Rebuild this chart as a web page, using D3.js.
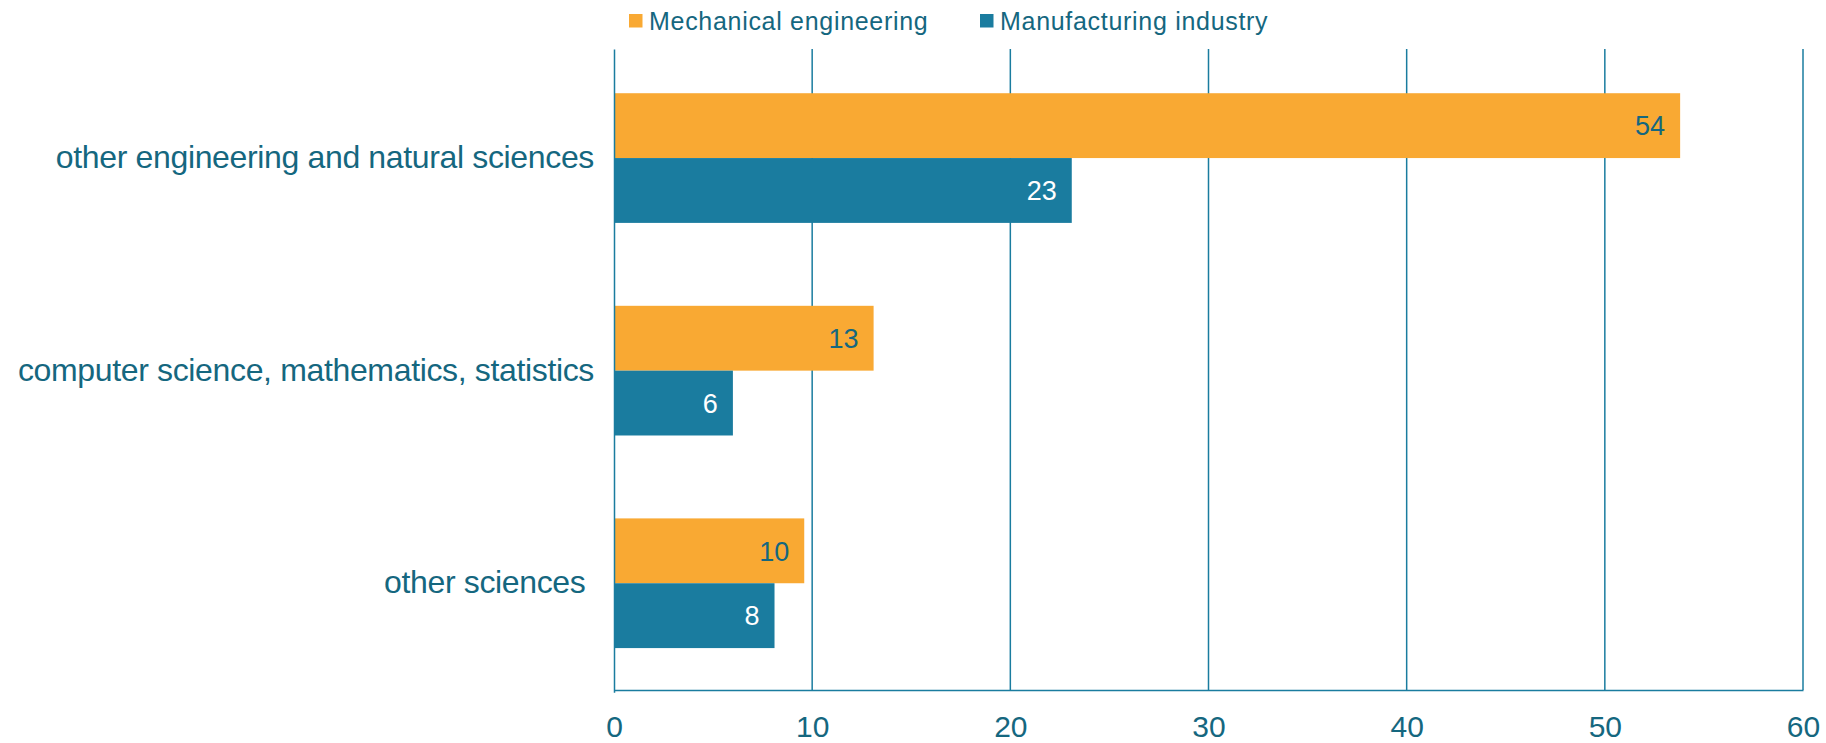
<!DOCTYPE html>
<html><head><meta charset="utf-8">
<script src="https://cdn.jsdelivr.net/npm/d3@7"></script>
<style>body{margin:0;background:#fff;}svg{display:block;font-family:"Liberation Sans",Arial,sans-serif;}</style>
</head><body>
<svg id="c" width="1826" height="743"></svg>
<script>
const categories = ["other engineering and natural sciences", "computer science, mathematics, statistics", "other sciences "];
const seriesNames = ["Mechanical engineering", "Manufacturing industry"];
const mechanical = [53.8, 13.1, 9.6];
const manufacturing = [23.1, 6.0, 8.1];
const labelsMech = ["54", "13", "10"];
const labelsManu = ["23", "6", "8"];
const ticks = [0, 10, 20, 30, 40, 50, 60];

const colors = ["#F9A933", "#1A7C9F"];
const textColor = "#15677F";
const svg = d3.select("#c");
const m = {left: 614, right: 1803, top: 49, bottom: 690};

const x = d3.scaleLinear().domain([0, 60]).range([m.left, m.right]);
const y0 = d3.scaleBand().domain(categories).range([m.top, 692.3]).paddingInner(0.39).paddingOuter(0.208);
const y1 = d3.scaleBand().domain(seriesNames).range([0, y0.bandwidth()]);

// gridlines
svg.append("g").selectAll("line").data(ticks.slice(1)).join("line")
  .attr("x1", d => x(d)).attr("x2", d => x(d)).attr("y1", m.top).attr("y2", m.bottom)
  .attr("stroke", "#1A7C9F").attr("stroke-width", 1.5);

const rows = categories.map((c, i) => ({c, vals: [mechanical[i], manufacturing[i]], labs: [labelsMech[i], labelsManu[i]]}));
const g = svg.append("g").selectAll("g").data(rows).join("g")
  .attr("transform", d => `translate(0,${y0(d.c)})`);
g.selectAll("rect").data(d => d.vals.map((v, j) => ({v, j, s: seriesNames[j]}))).join("rect")
  .attr("x", x(0)).attr("y", d => y1(d.s)).attr("width", d => x(d.v) - x(0)).attr("height", y1.bandwidth())
  .attr("fill", d => colors[d.j]);
g.selectAll("text").data(d => d.vals.map((v, j) => ({v, j, s: seriesNames[j], l: d.labs[j]}))).join("text")
  .attr("x", d => x(d.v) - 15).attr("y", d => y1(d.s) + y1.bandwidth() / 2)
  .attr("dy", "0.36em").attr("text-anchor", "end").attr("font-size", 27)
  .attr("fill", d => d.j === 0 ? textColor : "#ffffff").text(d => d.l);

// axes
const xAxis = svg.append("g").attr("transform", `translate(0,${m.bottom})`)
  .call(d3.axisBottom(x).tickValues(ticks).tickSize(0).tickPadding(26));
xAxis.select(".domain").attr("stroke", "#1A7C9F").attr("stroke-width", 1.5);
xAxis.selectAll("text").attr("font-size", 30).attr("fill", textColor).attr("font-family", "Liberation Sans, Arial, sans-serif");

const yAxis = svg.append("g").attr("transform", `translate(${m.left},0)`)
  .call(d3.axisLeft(y0).tickSize(0).tickPadding(20));
yAxis.select(".domain").attr("stroke", "#1A7C9F").attr("stroke-width", 1.5);
yAxis.selectAll("text").attr("font-size", 32).attr("letter-spacing", -0.35).attr("fill", textColor)
  .attr("font-family", "Liberation Sans, Arial, sans-serif").style("white-space", "pre");

// legend
const legendX = [629, 980];
const lg = svg.append("g").selectAll("g").data(seriesNames).join("g")
  .attr("transform", (d, i) => `translate(${legendX[i]},21)`);
lg.append("rect").attr("x", 0).attr("y", -7).attr("width", 13.5).attr("height", 13.5).attr("fill", (d, i) => colors[i]);
lg.append("text").attr("x", 20).attr("dy", "0.36em").attr("font-size", 25).attr("letter-spacing", 0.7)
  .attr("fill", textColor).text(d => d);
</script>
</body></html>
